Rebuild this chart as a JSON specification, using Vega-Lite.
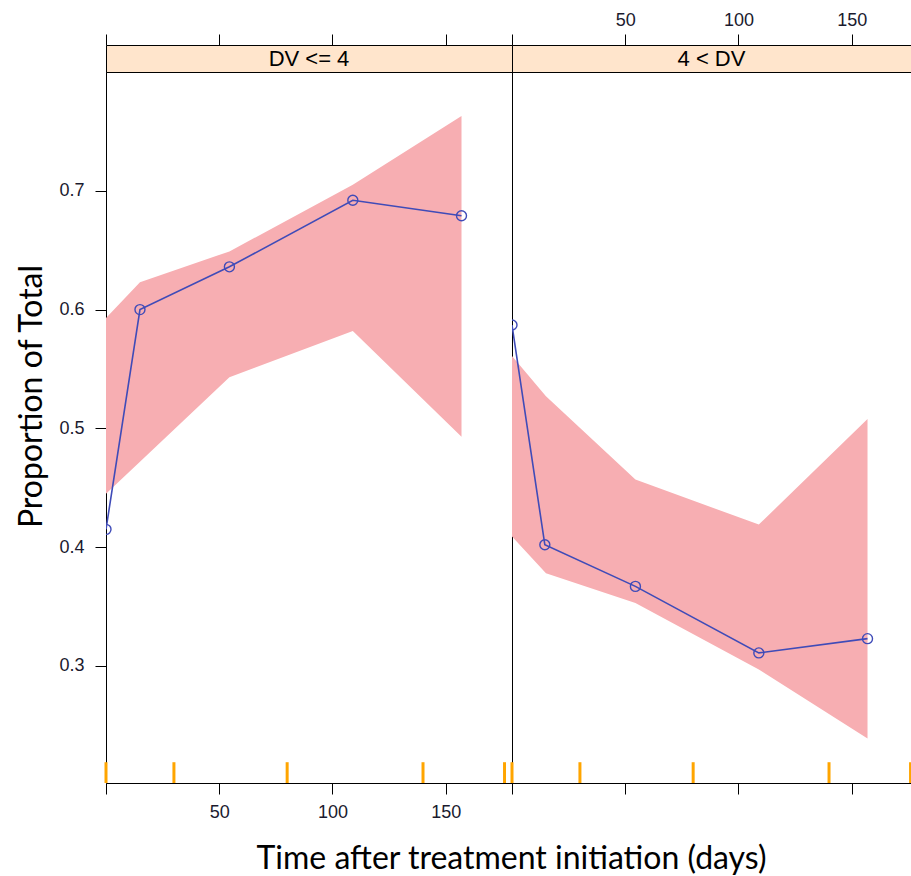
{
  "$schema": "https://vega.github.io/schema/vega-lite/v6.json",
  "padding": {"left": 15, "top": 10, "right": 0, "bottom": 4},
  "bounds": "flush",
  "spacing": 0,
  "columns": 2,
  "datasets": {
    "strips": [{"panel": "DV <= 4"}, {"panel": "4 < DV"}],
    "obs": [
      {"panel": "DV <= 4", "time": 0, "prop": 0.415},
      {"panel": "DV <= 4", "time": 15, "prop": 0.600},
      {"panel": "DV <= 4", "time": 54.5, "prop": 0.636},
      {"panel": "DV <= 4", "time": 109, "prop": 0.692},
      {"panel": "DV <= 4", "time": 157, "prop": 0.679},
      {"panel": "4 < DV", "time": 0, "prop": 0.587},
      {"panel": "4 < DV", "time": 14.5, "prop": 0.402},
      {"panel": "4 < DV", "time": 54.5, "prop": 0.367},
      {"panel": "4 < DV", "time": 109, "prop": 0.311},
      {"panel": "4 < DV", "time": 157, "prop": 0.323}
    ],
    "band": [
      {"panel": "DV <= 4", "time": 0, "lo": 0.445, "hi": 0.593},
      {"panel": "DV <= 4", "time": 15, "lo": 0.472, "hi": 0.623},
      {"panel": "DV <= 4", "time": 54.5, "lo": 0.543, "hi": 0.649},
      {"panel": "DV <= 4", "time": 109, "lo": 0.582, "hi": 0.705},
      {"panel": "DV <= 4", "time": 157, "lo": 0.493, "hi": 0.763},
      {"panel": "4 < DV", "time": 0, "lo": 0.409, "hi": 0.561},
      {"panel": "4 < DV", "time": 15, "lo": 0.378, "hi": 0.527},
      {"panel": "4 < DV", "time": 54.5, "lo": 0.353, "hi": 0.457},
      {"panel": "4 < DV", "time": 109, "lo": 0.297, "hi": 0.419},
      {"panel": "4 < DV", "time": 157, "lo": 0.239, "hi": 0.508}
    ],
    "bins": [
      {"panel": "DV <= 4", "time": 0},
      {"panel": "DV <= 4", "time": 30},
      {"panel": "DV <= 4", "time": 80},
      {"panel": "DV <= 4", "time": 140},
      {"panel": "DV <= 4", "time": 176},
      {"panel": "4 < DV", "time": 0},
      {"panel": "4 < DV", "time": 30},
      {"panel": "4 < DV", "time": 80},
      {"panel": "4 < DV", "time": 140},
      {"panel": "4 < DV", "time": 176}
    ]
  },
  "config": {
    "view": {"stroke": "black", "strokeWidth": 1},
    "axis": {
      "domain": false, "grid": false, "tickColor": "black", "tickSize": 11, "tickWidth": 1,
      "labelFont": "Liberation Sans", "labelFontSize": 18, "labelColor": "#1a1a2e",
      "titleFont": "Lato", "titleFontSize": 32, "titleFontWeight": "normal", "titleColor": "black"
    }
  },
  "concat": [
    {
      "width": 406, "height": 27,
      "data": {"name": "strips"},
      "transform": [{"filter": "datum.panel == 'DV <= 4'"}],
      "view": {"fill": "#FFE5CC", "stroke": "black"},
      "mark": {"type": "text", "font": "Liberation Sans", "fontSize": 22, "color": "black"},
      "encoding": {"text": {"field": "panel"}}
    },
    {
      "width": 399, "height": 27,
      "data": {"name": "strips"},
      "transform": [{"filter": "datum.panel == '4 < DV'"}],
      "view": {"fill": "#FFE5CC", "stroke": "black"},
      "mark": {"type": "text", "font": "Liberation Sans", "fontSize": 22, "color": "black"},
      "encoding": {"text": {"field": "panel"}}
    },
    {
      "width": 406, "height": 711,
      "resolve": {"axis": {"x": "independent", "y": "independent"}},
      "layer": [
        {
          "data": {"name": "band"},
          "transform": [{"filter": "datum.panel == 'DV <= 4'"}],
          "mark": {"type": "area", "color": "#F7AEB2", "opacity": 1, "clip": true},
          "encoding": {
            "x": {"field": "time", "type": "quantitative", "scale": {"domain": [0, 179.3], "nice": false, "zero": false},
              "axis": {"orient": "bottom", "values": [0, 50, 100, 150], "labelExpr": "datum.value == 0 ? '' : datum.label", "labelPadding": 9,
                "title": "Time after treatment initiation (days)", "titleX": 405, "titlePadding": 22}},
            "y": {"field": "lo", "type": "quantitative", "scale": {"domain": [0.2015, 0.8], "nice": false, "zero": false},
              "axis": {"orient": "left", "values": [0.3, 0.4, 0.5, 0.6, 0.7], "format": ".1f", "labelPadding": 11,
                "title": "Proportion of Total", "titleY": 324, "titlePadding": 10}},
            "y2": {"field": "hi"}
          }
        },
        {
          "data": {"name": "obs"},
          "transform": [{"filter": "datum.panel == 'DV <= 4'"}],
          "mark": {"type": "line", "color": "#3F4BB8", "strokeWidth": 1.6, "clip": true},
          "encoding": {
            "x": {"field": "time", "type": "quantitative", "scale": {"domain": [0, 179.3], "nice": false, "zero": false},
              "axis": {"orient": "top", "offset": 27, "values": [0, 50, 100, 150], "labels": false, "title": null}},
            "y": {"field": "prop", "type": "quantitative", "scale": {"domain": [0.2015, 0.8], "nice": false, "zero": false}, "axis": null}
          }
        },
        {
          "data": {"name": "obs"},
          "transform": [{"filter": "datum.panel == 'DV <= 4'"}],
          "mark": {"type": "point", "filled": false, "color": "#3F4BB8", "size": 100, "strokeWidth": 1.4, "opacity": 1, "clip": true},
          "encoding": {
            "x": {"field": "time", "type": "quantitative", "scale": {"domain": [0, 179.3], "nice": false, "zero": false}, "axis": null},
            "y": {"field": "prop", "type": "quantitative", "scale": {"domain": [0.2015, 0.8], "nice": false, "zero": false}, "axis": null}
          }
        },
        {
          "data": {"name": "bins"},
          "transform": [{"filter": "datum.panel == 'DV <= 4'"}],
          "mark": {"type": "rule", "color": "#FFA500", "strokeWidth": 3},
          "encoding": {
            "x": {"field": "time", "type": "quantitative", "scale": {"domain": [0, 179.3], "nice": false, "zero": false}, "axis": null},
            "y": {"datum": 0.2015, "type": "quantitative", "axis": null},
            "y2": {"datum": 0.219}
          }
        }
      ]
    },
    {
      "width": 399, "height": 711,
      "resolve": {"axis": {"x": "independent"}},
      "layer": [
        {
          "data": {"name": "band"},
          "transform": [{"filter": "datum.panel == '4 < DV'"}],
          "mark": {"type": "area", "color": "#F7AEB2", "opacity": 1, "clip": true},
          "encoding": {
            "x": {"field": "time", "type": "quantitative", "scale": {"domain": [0, 176.2], "nice": false, "zero": false},
              "axis": {"orient": "bottom", "values": [0, 50, 100, 150], "labels": false, "title": null}},
            "y": {"field": "lo", "type": "quantitative", "scale": {"domain": [0.2015, 0.8], "nice": false, "zero": false}, "axis": null},
            "y2": {"field": "hi"}
          }
        },
        {
          "data": {"name": "obs"},
          "transform": [{"filter": "datum.panel == '4 < DV'"}],
          "mark": {"type": "line", "color": "#3F4BB8", "strokeWidth": 1.6, "clip": true},
          "encoding": {
            "x": {"field": "time", "type": "quantitative", "scale": {"domain": [0, 176.2], "nice": false, "zero": false},
              "axis": {"orient": "top", "offset": 27, "values": [0, 50, 100, 150], "labelExpr": "datum.value == 0 ? '' : datum.label", "labelPadding": 5, "title": null}},
            "y": {"field": "prop", "type": "quantitative", "scale": {"domain": [0.2015, 0.8], "nice": false, "zero": false}, "axis": null}
          }
        },
        {
          "data": {"name": "obs"},
          "transform": [{"filter": "datum.panel == '4 < DV'"}],
          "mark": {"type": "point", "filled": false, "color": "#3F4BB8", "size": 100, "strokeWidth": 1.4, "opacity": 1, "clip": true},
          "encoding": {
            "x": {"field": "time", "type": "quantitative", "scale": {"domain": [0, 176.2], "nice": false, "zero": false}, "axis": null},
            "y": {"field": "prop", "type": "quantitative", "scale": {"domain": [0.2015, 0.8], "nice": false, "zero": false}, "axis": null}
          }
        },
        {
          "data": {"name": "bins"},
          "transform": [{"filter": "datum.panel == '4 < DV'"}],
          "mark": {"type": "rule", "color": "#FFA500", "strokeWidth": 3},
          "encoding": {
            "x": {"field": "time", "type": "quantitative", "scale": {"domain": [0, 176.2], "nice": false, "zero": false}, "axis": null},
            "y": {"datum": 0.2015, "type": "quantitative", "axis": null},
            "y2": {"datum": 0.219}
          }
        }
      ]
    }
  ]
}
